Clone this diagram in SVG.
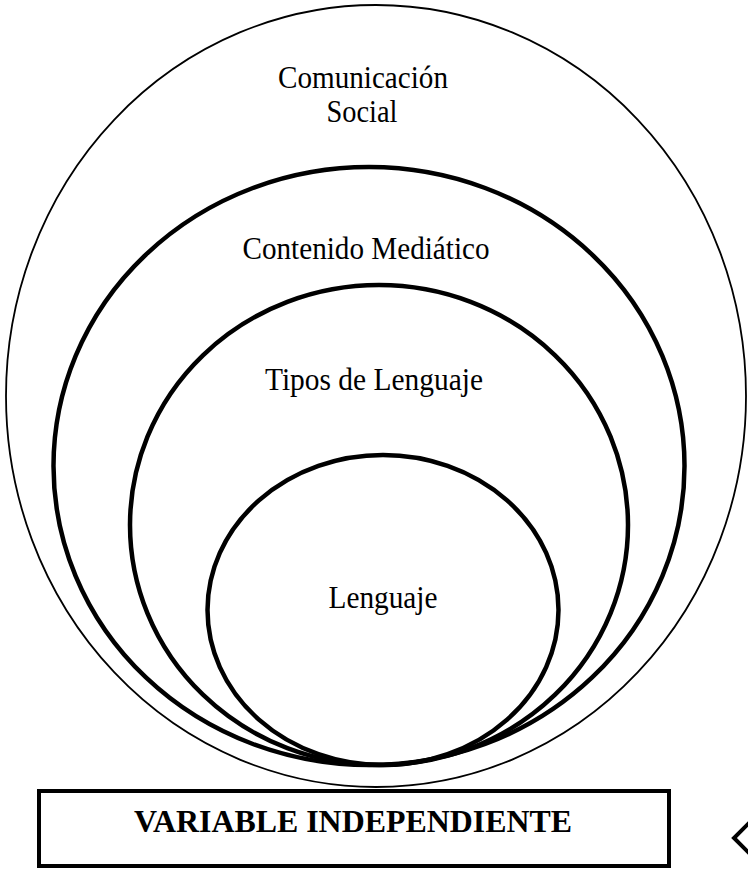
<svg xmlns="http://www.w3.org/2000/svg" width="748" height="870" viewBox="0 0 748 870">
<style>
.ring{fill:none;stroke:#000;stroke-width:4.5}
.thin{fill:none;stroke:#000;stroke-width:1.8}
.lbl{font-size:31px;fill:#000;text-anchor:middle}
.box{fill:#fff;stroke:#000;stroke-width:4}
.boxtxt{font-size:31px;font-weight:bold;fill:#000;text-anchor:middle}
</style>
<rect width="748" height="870" fill="#fff"/>
<g font-family="'Liberation Serif', Tinos, 'Times New Roman', serif">
<g id="comunicacion-social">
<ellipse class="thin" cx="376" cy="396" rx="370" ry="391"/>
<text class="lbl" x="363" y="88" textLength="170" lengthAdjust="spacingAndGlyphs">Comunicación</text>
<text class="lbl" x="362" y="122" textLength="71" lengthAdjust="spacingAndGlyphs">Social</text>
</g>
<g id="contenido-mediatico">
<ellipse class="ring" cx="369" cy="466" rx="315.5" ry="299"/>
<text class="lbl" x="366" y="259" textLength="247" lengthAdjust="spacingAndGlyphs">Contenido Mediático</text>
</g>
<g id="tipos-lenguaje">
<ellipse class="ring" cx="379" cy="525" rx="249" ry="240"/>
<text class="lbl" x="374" y="390" textLength="218" lengthAdjust="spacingAndGlyphs">Tipos de Lenguaje</text>
</g>
<g id="lenguaje">
<ellipse class="ring" cx="383" cy="610" rx="175.5" ry="155"/>
<text class="lbl" x="383" y="608" textLength="109" lengthAdjust="spacingAndGlyphs">Lenguaje</text>
</g>
<g id="variable-independiente">
<rect class="box" x="39" y="791" width="630" height="75"/>
<text class="boxtxt" x="353" y="832" textLength="438" lengthAdjust="spacingAndGlyphs">VARIABLE INDEPENDIENTE</text>
</g>
</g>
<g id="connectors">
<polyline points="750,822 734,838 750,854" fill="none" stroke="#000" stroke-width="4"/>
</g>
</svg>
